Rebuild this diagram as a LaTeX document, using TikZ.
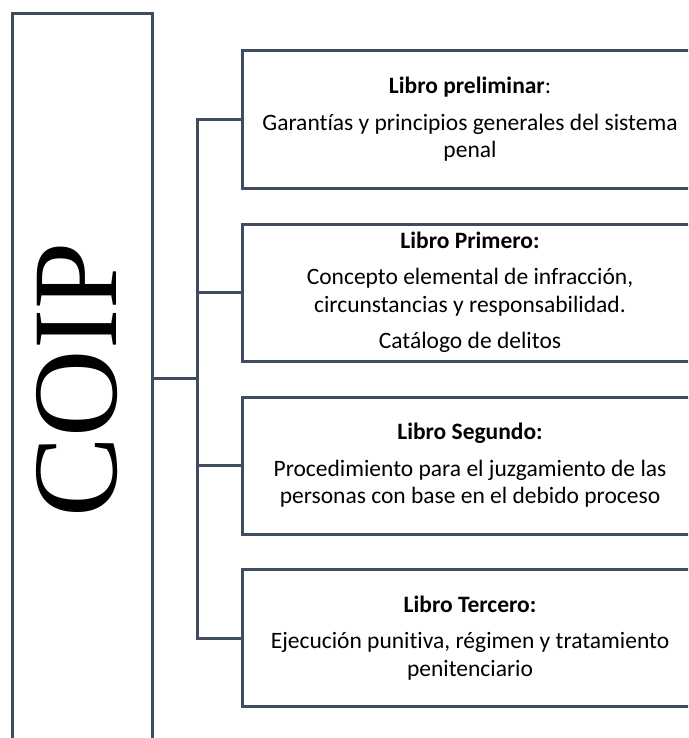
\documentclass[tikz,border=0pt]{standalone}
\usepackage{fontspec}
\setmainfont{Carlito}[Ligatures=NoCommon]
\newfontfamily\coipfont{Liberation Serif}
\usetikzlibrary{positioning}
\definecolor{framecol}{HTML}{404C60}

\begin{document}
\begin{tikzpicture}[
    x=1pt, y=-1pt,
    book/.style={rectangle, draw=framecol, line width=3pt, minimum width=456pt, minimum height=137pt, align=center, inner sep=0pt, font=\fontsize{23.5}{27.5}\selectfont},
    code_box/.style={rectangle, draw=framecol, line width=3pt, minimum width=140pt, minimum height=728pt, inner sep=0pt},
    code_label/.style={rotate=90, inner sep=0pt, font=\coipfont\fontsize{121}{121}\selectfont},
    link/.style={draw=framecol, line width=3pt}
]
    \clip (0,0) rectangle (688,738);

    % Left column with the code name
    \node[code_box] (coip) at (82,378) {};
    \node[code_label] (coiptext) at (77.5,380) {COIP};

    % The four books
    \node[book] (b1) at (470,119.5) {\textbf{Libro preliminar}:\\[9pt] Garantías y principios generales del sistema\\ penal};
    \node[book] (b2) at (470,292.5) {\textbf{Libro Primero:}\\[9pt] Concepto elemental de infracción,\\ circunstancias y responsabilidad.\\[9pt] Catálogo de delitos};
    \node[book] (b3) at (470,465.5) {\textbf{Libro Segundo:}\\[9pt] Procedimiento para el juzgamiento de las\\ personas con base en el debido proceso};
    \node[book] (b4) at (470,638) {\textbf{Libro Tercero:}\\[9pt] Ejecución punitiva, régimen y tratamiento\\ penitenciario};

    % Bus from the code to the books
    \coordinate (hub) at (197,378);
    \draw[link] (coip.east |- hub) -- (hub);
    \draw[link] (b1.west) -| (hub) |- (b4.west);
    \foreach \b in {2, 3} {
        \draw[link] (b\b.west) -- (b\b.west -| hub);
    }

\end{tikzpicture}
\end{document}
